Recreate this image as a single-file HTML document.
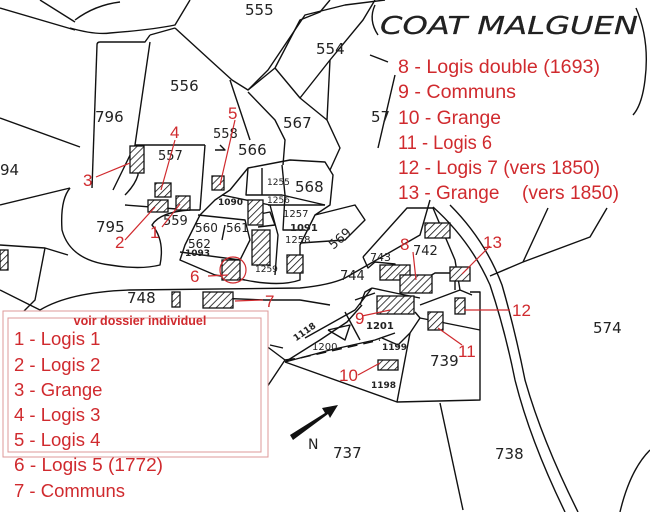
<!DOCTYPE html>
<html><head><meta charset="utf-8"><style>
html,body{margin:0;padding:0;background:#fff;}
svg{display:block;}
.m{font-family:"DejaVu Sans","Liberation Sans",sans-serif;fill:#222;}
.r{font-family:"Liberation Sans",sans-serif;fill:#d02a2e;}
</style></head><body>
<svg width="650" height="512" viewBox="0 0 650 512" xmlns="http://www.w3.org/2000/svg">
<defs>
<pattern id="h" width="5" height="5" patternUnits="userSpaceOnUse" patternTransform="rotate(45)">
<rect width="5" height="5" fill="#fff"/><line x1="0" y1="0" x2="0" y2="5" stroke="#111" stroke-width="1.6"/>
</pattern>
</defs>
<rect width="650" height="512" fill="#fff"/>
<g fill="none" stroke="#111" stroke-width="1.4" stroke-linejoin="round">
<polyline points="0,8 75,30"/>
<polyline points="40,0 75,22"/>
<path d="M70,28 Q95,35 110,33 Q150,30 175,25 L190,0"/>
<path d="M75,20 Q95,5 120,2"/>
<polyline points="0,118 80,147"/>
<polyline points="150,35 175,28"/>
<path d="M97,45 Q97,42 100,42 L145,42 L150,35"/>
<polyline points="97,45 92,188"/>
<polyline points="150,42 135,145 113,190"/>
<polyline points="175,28 210,60 232,80 248,90 268,70 305,15 345,5 385,0"/>
<polyline points="230,80 250,140"/>
<polyline points="248,90 275,68 300,20 320,12 330,0"/>
<polyline points="275,68 300,98 327,120"/>
<polyline points="300,98 330,60 363,20 375,0"/>
<polyline points="330,60 327,120 340,148 330,170"/>
<polyline points="248,92 275,120 285,140 283,165"/>
<polyline points="135,145 205,145"/>
<polyline points="205,145 200,210"/>
<polyline points="125,205 190,210 200,210"/>
<path d="M125,195 Q135,185 138,175 L138,150"/>
<path d="M70,188 Q60,200 62,230 Q70,260 110,265 Q140,270 160,265 Q165,240 152,225 Q160,212 190,210"/>
<polyline points="0,245 45,248 68,255"/>
<polyline points="45,248 35,300 20,315"/>
<path d="M0,205 L70,188"/>
<path d="M248,168 L290,160 L325,162 L333,175 L330,205 L315,215 L300,245 L300,280 Q280,287 245,280 L215,275 L180,260 L185,245 L200,215 L215,200 L230,190 Z"/>
<polyline points="248,168 246,195 282,195 325,205"/>
<polyline points="262,168 262,195"/>
<polyline points="282,165 285,195 283,230 305,230"/>
<polyline points="222,195 270,205 278,235 275,275"/>
<polyline points="198,215 245,220 250,240 240,260 180,252"/>
<polyline points="225,225 222,240"/>
<polyline points="315,215 355,205 365,220 345,240 300,243"/>
<polyline points="255,215 270,212 275,225 258,227 Z"/>
<polyline points="268,205 325,205"/>
<path d="M40,310 Q70,292 130,290 L300,288 Q330,285 345,278 L420,235 L430,200"/>
<path d="M0,290 Q20,300 40,310"/>
<path d="M215,298 L265,300 L300,300"/>
<path d="M300,300 L330,305"/>
<polyline points="355,300 375,293"/>
<path d="M378,148 L395,75"/>
<path d="M636,8 Q650,40 645,80 Q642,105 633,115"/>
<path d="M375,5 Q368,20 378,35"/>
<polyline points="370,55 388,62"/>
<polyline points="363,257 407,208 433,208 455,260 460,290 472,295"/>
<polyline points="363,257 368,268 375,262 395,264 395,270 410,275"/>
<polyline points="418,283 435,273 455,273 455,290"/>
<polyline points="372,288 400,294 420,298"/>
<polyline points="372,288 365,292 360,305"/>
<path d="M305,338 L355,310 L372,288"/>
<path d="M285,362 L320,340 L347,322 L362,305"/>
<polyline points="285,362 397,402 480,400 480,292 470,292"/>
<polyline points="285,362 330,350 375,340 395,333"/>
<polyline points="328,330 345,340 350,325 328,330"/>
<polyline points="345,312 360,340"/>
<polyline points="382,338 398,345 410,333 420,318 415,312"/>
<polyline points="410,333 397,402"/>
<polyline points="420,318 480,330"/>
<polyline points="420,305 460,290"/>
<polyline points="283,348 270,345"/>
<path d="M285,360 L300,358 L380,340" stroke-dasharray="10,6"/>
<path d="M440,403 L463,510"/>
<path d="M433,207 Q470,240 490,285 Q505,330 515,380 Q530,440 565,512"/>
<path d="M450,205 Q485,240 502,285 Q515,330 525,380 Q542,440 578,512"/>
<polyline points="490,276 523,262 548,208"/>
<polyline points="523,262 590,237 607,208"/>
<path d="M620,512 Q630,470 650,450"/>
<path d="M265,345 L285,360"/>
<path d="M265,390 L285,360"/>
<polyline points="220,145 225,150 215,150"/>
</g>
<g fill="url(#h)" stroke="#111" stroke-width="1.3">
<rect x="130" y="146" width="14" height="27"/>
<rect x="155" y="183" width="16" height="14"/>
<rect x="148" y="200" width="20" height="12"/>
<rect x="176" y="196" width="14" height="14"/>
<rect x="212" y="176" width="12" height="14"/>
<rect x="248" y="200" width="15" height="25"/>
<rect x="252" y="230" width="18" height="35"/>
<rect x="287" y="255" width="16" height="18"/>
<rect x="222" y="260" width="18" height="20"/>
<rect x="203" y="292" width="30" height="16"/>
<rect x="172" y="292" width="8" height="15"/>
<rect x="0" y="250" width="8" height="20"/>
<rect x="425" y="223" width="25" height="15"/>
<rect x="450" y="267" width="20" height="14"/>
<rect x="380" y="265" width="30" height="15"/>
<rect x="400" y="275" width="32" height="18"/>
<rect x="377" y="296" width="37" height="18"/>
<rect x="455" y="298" width="10" height="16"/>
<rect x="428" y="312" width="15" height="18"/>
<rect x="378" y="360" width="20" height="10"/>
</g>
<polygon points="290,435 325,413 322,408 338,405 330,418 328,414 293,440" fill="#111"/>
<text x="308" y="449" class="m" font-size="14">N</text>
<g class="m" font-size="15">
<text x="245" y="15">555</text><text x="316" y="54">554</text>
<text x="170" y="91">556</text><text x="95" y="122">796</text>
<text x="283" y="128">567</text><text x="371" y="122">57</text>
<text x="0" y="175">94</text><text x="96" y="232">795</text>
<text x="158" y="160" font-size="13">557</text><text x="213" y="138" font-size="13">558</text>
<text x="238" y="155">566</text><text x="295" y="192">568</text>
<text x="163" y="225" font-size="13">559</text><text x="195" y="232" font-size="12">560</text>
<text x="226" y="232" font-size="12">561</text><text x="188" y="248" font-size="12">562</text>
<text x="326" y="246" font-size="13" transform="rotate(-40 335 238)">569</text>
<text x="283" y="217" font-size="10">1257</text><text x="267" y="185" font-size="9">1255</text>
<text x="267" y="203" font-size="9">1256</text><text x="285" y="243" font-size="10">1258</text>
<text x="290" y="231" font-size="10" font-weight="bold">1091</text>
<text x="218" y="205" font-size="9" font-weight="bold">1090</text>
<text x="185" y="256" font-size="9" font-weight="bold">1093</text>
<text x="255" y="272" font-size="9">1259</text>
<text x="127" y="303">748</text><text x="340" y="280" font-size="13">744</text>
<text x="413" y="255" font-size="13">742</text><text x="370" y="261" font-size="11">743</text>
<text x="366" y="329" font-size="10" font-weight="bold">1201</text>
<text x="312" y="350" font-size="10">1200</text>
<text x="293" y="338" font-size="9" font-weight="bold" transform="rotate(-35 300 335)">1118</text>
<text x="382" y="350" font-size="9" font-weight="bold">1199</text>
<text x="371" y="388" font-size="9" font-weight="bold">1198</text>
<text x="430" y="366">739</text><text x="593" y="333">574</text>
<text x="333" y="458">737</text><text x="495" y="459">738</text>
</g>
<text x="380" y="34" class="m" font-size="25" font-style="italic" stroke="#111" stroke-width="0.2" textLength="258" lengthAdjust="spacingAndGlyphs">COAT  MALGUEN</text>
<g stroke="#d02a2e" stroke-width="1.2" fill="none">
<line x1="96" y1="177" x2="130" y2="163"/>
<line x1="125" y1="240" x2="155" y2="207"/>
<line x1="162" y1="227" x2="180" y2="204"/>
<line x1="175" y1="140" x2="161" y2="190"/>
<line x1="235" y1="120" x2="220" y2="185"/>
<line x1="208" y1="276" x2="228" y2="275"/>
<circle cx="233" cy="270" r="13"/>
<line x1="235" y1="301" x2="263" y2="300"/>
<line x1="413" y1="252" x2="416" y2="280"/>
<line x1="490" y1="246" x2="462" y2="274"/>
<line x1="510" y1="310" x2="464" y2="310"/>
<line x1="462" y1="345" x2="438" y2="328"/>
<line x1="362" y1="316" x2="390" y2="310"/>
<line x1="358" y1="375" x2="380" y2="363"/>
</g>
<g class="r" font-size="17">
<text x="83" y="186">3</text><text x="170" y="138">4</text><text x="228" y="119">5</text>
<text x="115" y="248">2</text><text x="150" y="238">1</text><text x="190" y="282">6</text>
<text x="265" y="307">7</text><text x="400" y="250">8</text><text x="483" y="248">13</text>
<text x="512" y="316">12</text><text x="355" y="324">9</text><text x="458" y="357">11</text>
<text x="339" y="381">10</text>
</g>
<g class="r" font-size="19">
<text x="398" y="73" textLength="202" lengthAdjust="spacingAndGlyphs">8 - Logis double (1693)</text>
<text x="398" y="98" textLength="118" lengthAdjust="spacingAndGlyphs">9 - Communs</text>
<text x="398" y="124" textLength="103" lengthAdjust="spacingAndGlyphs">10 - Grange</text>
<text x="398" y="149" textLength="94" lengthAdjust="spacingAndGlyphs">11 - Logis 6</text>
<text x="398" y="174" textLength="202" lengthAdjust="spacingAndGlyphs">12 - Logis 7 (vers 1850)</text>
<text x="398" y="199">13 - Grange</text>
<text x="522" y="199" textLength="97" lengthAdjust="spacingAndGlyphs">(vers 1850)</text>
</g>
<rect x="3" y="311" width="265" height="146" fill="#fff" stroke="#d99" stroke-width="1"/>
<rect x="8" y="318" width="253" height="134" fill="none" stroke="#d99" stroke-width="1"/>
<text x="140" y="325" class="r" font-size="12.5" font-weight="bold" text-anchor="middle">voir dossier individuel</text>
<g class="r" font-size="18.5">
<text x="14" y="345">1 - Logis 1</text>
<text x="14" y="371">2 - Logis 2</text>
<text x="14" y="396">3 - Grange</text>
<text x="14" y="421">4 - Logis 3</text>
<text x="14" y="446">5 - Logis 4</text>
<text x="14" y="471" textLength="149" lengthAdjust="spacingAndGlyphs">6 - Logis 5 (1772)</text>
<text x="14" y="497">7 - Communs</text>
</g>
</svg>
</body></html>
